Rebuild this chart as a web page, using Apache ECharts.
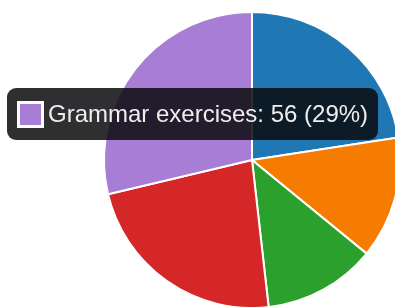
<!DOCTYPE html>
<html>
<head>
<meta charset="utf-8">
<script src="https://cdn.jsdelivr.net/npm/echarts@6/dist/echarts.min.js"></script>
<style>
html,body{margin:0;padding:0;background:#fff;}
#chart{width:395px;height:307px;}
</style>
</head>
<body>
<div id="chart"></div>
<script>
var categories = ["Vocabulary drills", "Listening practice", "Speaking practice", "Reading", "Grammar exercises"];
var values = [44, 26, 24, 45, 56];
var colors = ["#1f77b4", "#f57c00", "#2ca02c", "#d62728", "#a87dd6"];

var chart = echarts.init(document.getElementById('chart'), null, {renderer: 'canvas'});
var total = values.reduce(function(a, b){ return a + b; }, 0);
var data = categories.map(function(c, i){ return {name: c, value: values[i], itemStyle: {color: colors[i]}}; });

chart.setOption({
  animation: false,
  tooltip: {
    trigger: 'item',
    alwaysShowContent: true,
    transitionDuration: 0,
    backgroundColor: 'rgba(10,10,14,0.85)',
    borderWidth: 0,
    padding: [12, 10],
    extraCssText: 'border-radius:9px;box-shadow:none;',
    position: function(){ return [7, 88]; },
    formatter: function(p){
      var pct = Math.round(p.value / total * 100);
      return '<div style="display:flex;align-items:center;font-family:Liberation Sans,Arial,sans-serif;font-size:24px;color:#eee;line-height:28px;white-space:nowrap;">' +
        '<span style="display:inline-block;box-sizing:border-box;width:27px;height:27px;background:' + p.color + ';border:3px solid #fff;margin-right:4px;"></span>' +
        p.name + ': ' + p.value + ' (' + pct + '%)</div>';
    }
  },
  series: [{
    type: 'pie',
    center: [252, 160],
    radius: 148,
    startAngle: 90,
    clockwise: true,
    label: {show: false},
    labelLine: {show: false},
    emphasis: {scale: false, itemStyle: {shadowBlur: 0}},
    itemStyle: {borderColor: '#fff', borderWidth: 2},
    data: data
  }]
});
chart.dispatchAction({type: 'showTip', seriesIndex: 0, dataIndex: 4});
</script>
</body>
</html>
